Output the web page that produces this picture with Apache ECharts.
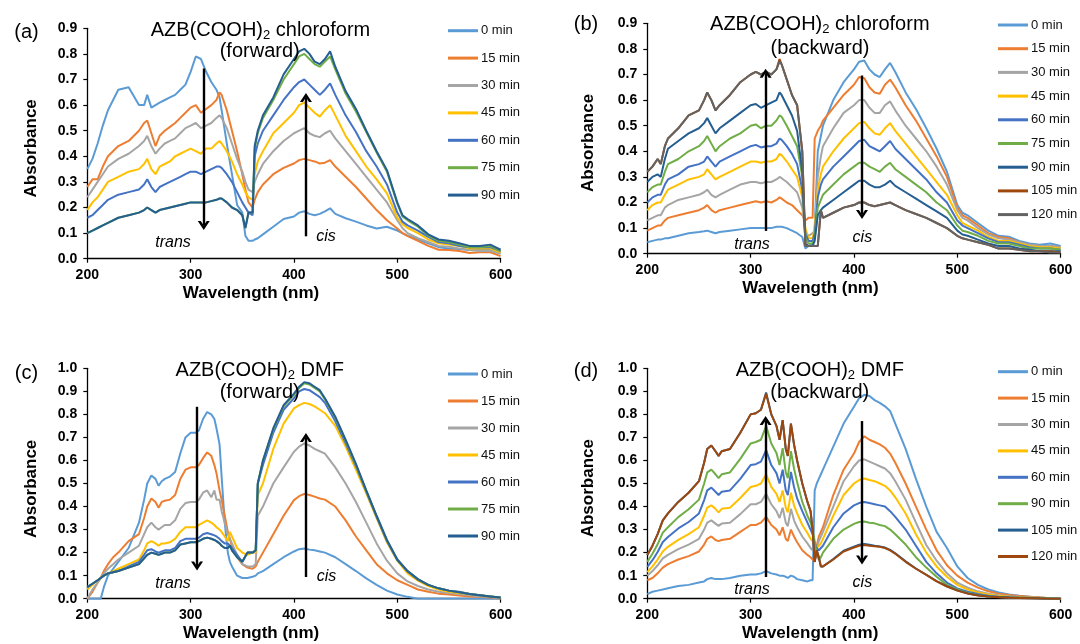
<!DOCTYPE html>
<html><head><meta charset="utf-8">
<script src="https://cdn.jsdelivr.net/npm/echarts@6/dist/echarts.min.js"></script>
<style>html,body{margin:0;padding:0;background:#fff}#c{width:1080px;height:644px}</style>
</head><body><div id="c"></div><script>
// ---------- DATA ----------
const namesA = ['0 min','15 min','30 min','45 min','60 min','75 min','90 min'];
const namesB = ['0 min','15 min','30 min','45 min','60 min','75 min','90 min','105 min','120 min'];
const namesC = ['0 min','15 min','30 min','45 min','60 min','75 min','90 min'];
const namesD = ['0 min','15 min','30 min','45 min','60 min','90 min','105 min','120 min'];
const xTicks = [200,300,400,500,600];

// (a) chloroform forward
const wlA = [200,205,210,215,220, 230,240,250,255,258, 262,266,270,275,280, 285,290,295,300,305, 310,315,320,325,328, 330,335,340,345,350, 353,356,360,362,365, 370,380,390,400,405, 410,415,420,425,430, 435,440,450,460,470, 480,490,500,505,510, 520,530,540,550,560, 570,580,590,600];
const a0  = [0.35,0.39,0.45,0.52,0.58, 0.66,0.67,0.60,0.60,0.64, 0.59,0.60,0.61,0.62,0.63, 0.64,0.66,0.68,0.73,0.79, 0.78,0.73,0.69,0.66,0.63, 0.58,0.45,0.33,0.21,0.18, 0.09,0.07,0.07,0.075,0.08, 0.095,0.125,0.155,0.165,0.18, 0.185,0.175,0.17,0.175,0.185, 0.197,0.175,0.158,0.145,0.13, 0.118,0.125,0.11,0.10,0.09, 0.075,0.06,0.045,0.04,0.038, 0.034,0.034,0.034,0.02];
const a15 = [0.28,0.31,0.31,0.36,0.40, 0.44,0.46,0.50,0.53,0.54, 0.49,0.44,0.48,0.50,0.515, 0.53,0.55,0.57,0.59,0.60, 0.57,0.585,0.60,0.62,0.65, 0.64,0.58,0.50,0.42,0.33, 0.27,0.22,0.20,0.23,0.26, 0.29,0.33,0.355,0.372,0.385, 0.39,0.385,0.38,0.372,0.375, 0.385,0.36,0.32,0.28,0.235, 0.19,0.15,0.118,0.10,0.088, 0.07,0.05,0.035,0.034,0.03, 0.022,0.025,0.025,0.01];
const a30 = [0.24,0.27,0.30,0.33,0.36, 0.39,0.41,0.44,0.46,0.48, 0.44,0.41,0.43,0.45,0.46, 0.47,0.49,0.51,0.52,0.53, 0.51,0.52,0.53,0.55,0.56, 0.55,0.51,0.45,0.39,0.34, 0.30,0.27,0.26,0.30,0.33, 0.37,0.42,0.46,0.49,0.50, 0.51,0.49,0.48,0.475,0.49, 0.50,0.47,0.42,0.37,0.32, 0.27,0.22,0.15,0.12,0.10, 0.08,0.065,0.05,0.047,0.04, 0.034,0.03,0.03,0.02];
const a45 = [0.19,0.22,0.24,0.27,0.30, 0.32,0.34,0.35,0.37,0.39, 0.35,0.33,0.36,0.37,0.38, 0.40,0.41,0.42,0.43,0.42, 0.41,0.43,0.43,0.45,0.46, 0.45,0.42,0.38,0.33,0.29, 0.26,0.24,0.23,0.33,0.38, 0.42,0.49,0.53,0.57,0.60, 0.61,0.59,0.57,0.555,0.58, 0.60,0.56,0.48,0.42,0.36, 0.31,0.255,0.16,0.135,0.12, 0.10,0.075,0.06,0.055,0.05, 0.04,0.04,0.04,0.025];
const a60 = [0.16,0.17,0.19,0.21,0.23, 0.25,0.26,0.27,0.29,0.31, 0.28,0.26,0.28,0.29,0.30, 0.31,0.32,0.33,0.34,0.34, 0.33,0.34,0.35,0.36,0.36, 0.355,0.33,0.30,0.26,0.22, 0.20,0.18,0.17,0.40,0.45, 0.50,0.56,0.62,0.67,0.69, 0.70,0.68,0.66,0.64,0.66, 0.685,0.64,0.56,0.495,0.42, 0.36,0.29,0.18,0.145,0.13, 0.11,0.085,0.065,0.06,0.05, 0.045,0.045,0.045,0.03];
const a75 = [0.10,0.11,0.12,0.13,0.14, 0.16,0.17,0.18,0.19,0.20, 0.19,0.18,0.19,0.195,0.20, 0.205,0.21,0.215,0.22,0.22, 0.22,0.22,0.225,0.23,0.235, 0.235,0.22,0.20,0.19,0.17, 0.12,0.18,0.18,0.43,0.49, 0.55,0.62,0.70,0.76,0.79, 0.80,0.78,0.76,0.75,0.77, 0.79,0.74,0.645,0.575,0.495, 0.415,0.34,0.215,0.165,0.15, 0.125,0.09,0.07,0.065,0.055, 0.045,0.045,0.05,0.03];
const a90 = [0.10,0.11,0.12,0.13,0.14, 0.16,0.17,0.18,0.19,0.20, 0.19,0.18,0.19,0.195,0.20, 0.205,0.21,0.215,0.22,0.22, 0.22,0.22,0.225,0.23,0.235, 0.235,0.22,0.20,0.19,0.17, 0.12,0.18,0.18,0.44,0.50, 0.56,0.63,0.72,0.78,0.81, 0.82,0.80,0.77,0.76,0.78, 0.81,0.75,0.655,0.585,0.50, 0.42,0.346,0.22,0.17,0.155, 0.13,0.095,0.075,0.07,0.06, 0.05,0.05,0.055,0.035];

// (b) chloroform backward
const wlB = [200,205,210,213,217, 220,230,240,250,255, 258,262,266,270,280, 290,300,305,310,315, 320,325,328,330,335, 340,345,350,353,356, 360,362,365,368,370, 380,390,400,405,410, 415,420,425,430,435, 440,450,460,470,480, 490,500,505,510,520, 530,540,550,560,570, 580,590,600];
const b0   = [0.045,0.05,0.055,0.055,0.06, 0.06,0.07,0.08,0.085,0.088, 0.09,0.085,0.08,0.085,0.09, 0.095,0.10,0.10,0.10,0.10, 0.10,0.105,0.105,0.105,0.10, 0.09,0.08,0.065,0.02,0.03, 0.04,0.10,0.40,0.46,0.50, 0.60,0.67,0.72,0.75,0.755, 0.72,0.70,0.69,0.72,0.745, 0.71,0.63,0.565,0.49,0.41, 0.32,0.19,0.16,0.15,0.12, 0.09,0.07,0.066,0.05,0.04, 0.035,0.04,0.03];
const b15  = [0.09,0.10,0.11,0.11,0.13, 0.14,0.15,0.16,0.17,0.18, 0.19,0.17,0.16,0.17,0.18, 0.19,0.20,0.205,0.20,0.205, 0.20,0.21,0.22,0.215,0.20, 0.19,0.17,0.15,0.13,0.14, 0.14,0.45,0.48,0.50,0.52, 0.57,0.62,0.66,0.69,0.685, 0.65,0.63,0.625,0.66,0.68, 0.65,0.58,0.52,0.45,0.38, 0.30,0.18,0.15,0.14,0.11, 0.08,0.065,0.06,0.045,0.035, 0.03,0.03,0.025];
const b30  = [0.13,0.14,0.15,0.15,0.18, 0.19,0.21,0.22,0.23,0.24, 0.25,0.23,0.22,0.23,0.25, 0.27,0.28,0.28,0.275,0.28, 0.28,0.29,0.30,0.295,0.28, 0.26,0.24,0.18,0.08,0.07, 0.08,0.09,0.30,0.38,0.42, 0.49,0.55,0.58,0.60,0.60, 0.57,0.55,0.55,0.58,0.595, 0.56,0.50,0.45,0.40,0.34, 0.27,0.17,0.14,0.13,0.10, 0.075,0.06,0.055,0.045,0.035, 0.03,0.03,0.025];
const b45  = [0.17,0.19,0.20,0.20,0.23, 0.25,0.27,0.29,0.30,0.31, 0.33,0.31,0.29,0.30,0.32, 0.34,0.36,0.36,0.355,0.36, 0.36,0.37,0.39,0.385,0.36, 0.33,0.30,0.22,0.10,0.06, 0.06,0.10,0.25,0.31,0.34, 0.40,0.45,0.49,0.51,0.515, 0.49,0.47,0.465,0.49,0.51, 0.48,0.43,0.38,0.33,0.28, 0.23,0.15,0.12,0.11,0.09, 0.065,0.05,0.05,0.04,0.03, 0.025,0.025,0.02];
const b60  = [0.20,0.22,0.23,0.23,0.27, 0.29,0.31,0.34,0.35,0.36, 0.38,0.36,0.34,0.36,0.38, 0.40,0.42,0.425,0.415,0.42, 0.42,0.43,0.45,0.445,0.42, 0.39,0.35,0.25,0.08,0.05, 0.05,0.08,0.22,0.27,0.29, 0.34,0.38,0.42,0.44,0.445, 0.42,0.41,0.40,0.42,0.44, 0.41,0.37,0.33,0.29,0.24, 0.20,0.13,0.11,0.10,0.08, 0.06,0.045,0.045,0.035,0.025, 0.02,0.02,0.015];
const b75  = [0.24,0.26,0.27,0.27,0.32, 0.35,0.37,0.40,0.42,0.44, 0.46,0.43,0.40,0.42,0.45, 0.47,0.50,0.505,0.49,0.50, 0.50,0.52,0.54,0.535,0.50, 0.46,0.42,0.30,0.06,0.04, 0.04,0.06,0.18,0.21,0.23, 0.27,0.31,0.34,0.355,0.355, 0.34,0.33,0.32,0.34,0.355, 0.33,0.30,0.27,0.24,0.20, 0.17,0.11,0.09,0.085,0.07, 0.05,0.04,0.04,0.03,0.02, 0.02,0.02,0.015];
const b90  = [0.28,0.30,0.31,0.30,0.37, 0.41,0.44,0.47,0.49,0.51, 0.53,0.50,0.47,0.49,0.52, 0.55,0.58,0.585,0.57,0.58, 0.59,0.60,0.63,0.62,0.58, 0.54,0.48,0.32,0.04,0.03, 0.03,0.05,0.15,0.17,0.18, 0.21,0.24,0.27,0.285,0.285, 0.27,0.26,0.26,0.27,0.285, 0.265,0.24,0.215,0.19,0.165, 0.14,0.09,0.075,0.07,0.055, 0.04,0.03,0.03,0.02,0.015, 0.01,0.01,0.01];
const b105 = [0.32,0.34,0.37,0.35,0.42, 0.45,0.49,0.54,0.56,0.60, 0.63,0.60,0.56,0.58,0.62, 0.67,0.70,0.71,0.70,0.71, 0.70,0.72,0.76,0.74,0.68, 0.62,0.58,0.40,0.03,0.03, 0.03,0.03,0.03,0.17,0.14, 0.16,0.18,0.19,0.20,0.20, 0.19,0.185,0.19,0.195,0.20, 0.19,0.17,0.155,0.14,0.12, 0.10,0.07,0.06,0.055,0.045, 0.035,0.02,0.02,0.015,0.01, 0.01,0.01,0.005];
const b120 = [0.32,0.34,0.37,0.35,0.42, 0.45,0.49,0.54,0.56,0.60, 0.63,0.60,0.56,0.58,0.62, 0.67,0.70,0.71,0.70,0.71, 0.70,0.72,0.75,0.74,0.68, 0.62,0.58,0.40,0.03,0.03, 0.03,0.03,0.03,0.17,0.14, 0.16,0.18,0.19,0.20,0.20, 0.19,0.185,0.19,0.195,0.20, 0.19,0.17,0.155,0.14,0.12, 0.10,0.07,0.06,0.055,0.045, 0.035,0.02,0.02,0.015,0.01, 0.01,0.005,0.005];

// (c) DMF forward
const wlC = [200,205,210,213,216, 220,225,230,240,250, 255,258,262,266,269, 272,275,280,285,290, 295,300,305,308,312, 316,320,323,325,328, 330,333,336,338,340, 345,350,355,360,363, 365,370,380,390,400, 405,410,415,420,425, 430,440,450,460,470, 480,490,500,510,520, 530,540,550,560,570, 580,590,600];
const c0  = [0,0,0,0,0.05, 0.10,0.13,0.16,0.22,0.33, 0.43,0.50,0.535,0.52,0.49, 0.51,0.52,0.53,0.55,0.63, 0.70,0.72,0.72,0.73,0.78, 0.81,0.80,0.78,0.74,0.67, 0.53,0.33,0.20,0.16,0.14, 0.10,0.09,0.09,0.095,0.10, 0.11,0.12,0.15,0.18,0.205, 0.215,0.218,0.213,0.21,0.205, 0.20,0.18,0.15,0.12,0.088, 0.06,0.035,0.018,0.008,0, 0,0,0,0,0, 0,0,0];
const c15 = [0,0.03,0.07,0.09,0.12, 0.15,0.18,0.20,0.25,0.28, 0.35,0.40,0.435,0.42,0.395, 0.42,0.425,0.43,0.45,0.52, 0.56,0.57,0.57,0.58,0.61, 0.635,0.62,0.58,0.545,0.47, 0.43,0.36,0.29,0.26,0.226, 0.18,0.15,0.135,0.13,0.14, 0.16,0.20,0.28,0.36,0.428, 0.445,0.455,0.45,0.443,0.435, 0.43,0.40,0.34,0.27,0.21, 0.15,0.11,0.08,0.06,0.04, 0.03,0.022,0.018,0.014,0.01, 0.008,0.005,0];
const c30 = [0,0.04,0.07,0.09,0.11, 0.13,0.15,0.17,0.20,0.23, 0.28,0.31,0.33,0.31,0.30, 0.31,0.32,0.32,0.34,0.39, 0.415,0.42,0.42,0.43,0.46, 0.47,0.44,0.47,0.43,0.43, 0.38,0.33,0.28,0.26,0.24, 0.19,0.15,0.14,0.14,0.15, 0.36,0.40,0.50,0.57,0.638, 0.66,0.674,0.665,0.65,0.64, 0.63,0.57,0.50,0.42,0.33, 0.24,0.165,0.11,0.075,0.055, 0.04,0.03,0.025,0.02,0.015, 0.01,0.008,0];
const c45 = [0.04,0.06,0.08,0.09,0.10, 0.11,0.12,0.13,0.15,0.17, 0.21,0.24,0.25,0.24,0.23, 0.24,0.24,0.245,0.26,0.29, 0.31,0.31,0.31,0.32,0.33, 0.34,0.33,0.32,0.31,0.30, 0.29,0.27,0.25,0.29,0.27, 0.22,0.20,0.19,0.20,0.20, 0.45,0.50,0.65,0.76,0.826, 0.84,0.85,0.845,0.835,0.82, 0.805,0.75,0.66,0.56,0.457, 0.35,0.245,0.165,0.11,0.078, 0.055,0.04,0.03,0.025,0.02, 0.015,0.01,0.005];
const c60 = [0.05,0.065,0.08,0.09,0.10, 0.11,0.115,0.12,0.14,0.16, 0.19,0.21,0.215,0.205,0.20, 0.205,0.21,0.21,0.22,0.25, 0.26,0.26,0.26,0.265,0.28, 0.285,0.28,0.275,0.27,0.26, 0.25,0.24,0.24,0.23,0.22, 0.19,0.16,0.20,0.20,0.21, 0.50,0.58,0.72,0.82,0.87, 0.90,0.91,0.905,0.89,0.875, 0.85,0.77,0.675,0.575,0.465, 0.355,0.25,0.168,0.118,0.082, 0.06,0.045,0.035,0.03,0.02, 0.015,0.01,0.005];
const c75 = [0.05,0.065,0.08,0.09,0.10, 0.11,0.115,0.12,0.135,0.15, 0.175,0.19,0.20,0.195,0.19, 0.195,0.20,0.20,0.21,0.235, 0.24,0.245,0.245,0.25,0.26, 0.265,0.26,0.255,0.25,0.24, 0.23,0.22,0.22,0.23,0.21, 0.18,0.16,0.20,0.20,0.21, 0.50,0.60,0.735,0.835,0.885, 0.915,0.935,0.93,0.915,0.90, 0.865,0.785,0.685,0.58,0.468, 0.358,0.253,0.17,0.12,0.084, 0.06,0.045,0.035,0.028,0.02, 0.015,0.01,0.005];
const c90 = [0.05,0.065,0.08,0.09,0.10, 0.11,0.115,0.12,0.135,0.15, 0.175,0.19,0.20,0.195,0.19, 0.195,0.20,0.20,0.21,0.235, 0.24,0.245,0.245,0.25,0.26, 0.265,0.26,0.255,0.25,0.24, 0.23,0.22,0.22,0.23,0.21, 0.18,0.16,0.20,0.20,0.21, 0.50,0.60,0.74,0.84,0.89, 0.92,0.94,0.935,0.92,0.905, 0.87,0.79,0.69,0.585,0.47, 0.36,0.255,0.17,0.12,0.085, 0.06,0.045,0.035,0.028,0.02, 0.015,0.01,0.005];

// (d) DMF backward
const wlD = [200,205,210,215,220, 230,240,250,255,258, 262,266,269,272,280, 290,300,305,310,315, 320,325,328,331,334, 336,339,342,345,350, 355,358,360,362,364, 366,368,370,380,390, 400,405,410,415,420, 425,430,435,440,450, 460,470,480,490,500, 510,520,530,540,550, 560,570,580,590,600];
const d0   = [0.02,0.03,0.035,0.04,0.045, 0.055,0.06,0.07,0.075,0.085, 0.09,0.085,0.085,0.085,0.09, 0.10,0.105,0.105,0.11,0.12, 0.11,0.105,0.10,0.10,0.095, 0.09,0.10,0.095,0.085,0.08, 0.075,0.08,0.08,0.47,0.50, 0.52,0.54,0.56,0.66,0.76, 0.833,0.87,0.885,0.88,0.862, 0.85,0.835,0.815,0.76,0.65, 0.52,0.40,0.29,0.22,0.14, 0.09,0.06,0.04,0.027,0.018, 0.013,0.009,0.005,0.002,0];
const d15  = [0.08,0.09,0.11,0.135,0.15, 0.17,0.185,0.205,0.235,0.26, 0.27,0.255,0.25,0.255,0.26, 0.29,0.32,0.32,0.33,0.355, 0.32,0.30,0.275,0.31,0.26, 0.25,0.30,0.27,0.245,0.21, 0.19,0.18,0.17,0.16,0.23, 0.27,0.29,0.31,0.45,0.56, 0.63,0.68,0.705,0.69,0.68, 0.67,0.655,0.63,0.59,0.50, 0.40,0.30,0.21,0.145,0.10, 0.07,0.048,0.032,0.022,0.016, 0.012,0.008,0.005,0.002,0];
const d30  = [0.10,0.12,0.145,0.175,0.19, 0.215,0.235,0.26,0.30,0.33, 0.34,0.326,0.316,0.326,0.33, 0.367,0.41,0.41,0.42,0.455, 0.41,0.38,0.35,0.395,0.33, 0.315,0.39,0.34,0.31,0.27, 0.24,0.22,0.21,0.20,0.22, 0.25,0.27,0.29,0.40,0.51, 0.575,0.60,0.605,0.595,0.585, 0.575,0.565,0.545,0.51,0.43, 0.33,0.233,0.165,0.11,0.07, 0.048,0.032,0.022,0.015,0.011, 0.008,0.006,0.004,0.002,0];
const d45  = [0.115,0.14,0.17,0.205,0.225, 0.255,0.28,0.31,0.36,0.395, 0.405,0.39,0.375,0.39,0.395, 0.437,0.485,0.49,0.50,0.54, 0.485,0.455,0.42,0.47,0.395, 0.375,0.46,0.405,0.37,0.32, 0.285,0.26,0.25,0.23,0.22, 0.23,0.24,0.26,0.36,0.45, 0.50,0.515,0.522,0.515,0.51, 0.50,0.49,0.47,0.44,0.37, 0.28,0.20,0.14,0.095,0.06, 0.04,0.027,0.018,0.012,0.009, 0.007,0.005,0.003,0.001,0];
const d60  = [0.138,0.167,0.203,0.246,0.268, 0.305,0.333,0.37,0.428,0.47, 0.482,0.464,0.45,0.464,0.47, 0.52,0.58,0.584,0.595,0.645, 0.58,0.545,0.50,0.56,0.47, 0.45,0.55,0.485,0.435,0.38, 0.33,0.30,0.28,0.24,0.22, 0.21,0.22,0.23,0.31,0.37, 0.405,0.415,0.42,0.415,0.41, 0.405,0.40,0.38,0.355,0.30, 0.23,0.16,0.11,0.07,0.045, 0.03,0.02,0.013,0.009,0.006, 0.005,0.004,0.002,0.001,0];
const d90  = [0.16,0.195,0.236,0.287,0.31, 0.354,0.388,0.43,0.50,0.548, 0.56,0.54,0.523,0.54,0.548, 0.607,0.674,0.68,0.69,0.75, 0.674,0.632,0.58,0.653,0.548, 0.523,0.64,0.565,0.506,0.42, 0.36,0.33,0.30,0.25,0.19, 0.17,0.18,0.20,0.26,0.30, 0.325,0.333,0.335,0.33,0.327, 0.32,0.315,0.30,0.28,0.235, 0.18,0.135,0.095,0.06,0.04, 0.025,0.016,0.01,0.007,0.005, 0.004,0.003,0.002,0.001,0];
const d105 = [0.19,0.23,0.28,0.34,0.37, 0.42,0.46,0.51,0.59,0.65, 0.665,0.64,0.62,0.64,0.65, 0.72,0.80,0.805,0.82,0.895, 0.80,0.75,0.69,0.775,0.65, 0.62,0.76,0.67,0.60,0.50, 0.42,0.38,0.30,0.16,0.21, 0.18,0.14,0.14,0.172,0.208, 0.226,0.234,0.238,0.234,0.23, 0.227,0.222,0.212,0.197,0.162, 0.131,0.104,0.076,0.054,0.036, 0.023,0.015,0.01,0.007,0.005, 0.003,0.002,0.001,0,0];
const d120 = [0.19,0.23,0.28,0.34,0.37, 0.42,0.46,0.51,0.59,0.65, 0.665,0.64,0.62,0.64,0.65, 0.72,0.80,0.805,0.82,0.89, 0.80,0.75,0.69,0.775,0.65, 0.62,0.76,0.67,0.60,0.50, 0.42,0.38,0.30,0.16,0.21, 0.18,0.14,0.14,0.17,0.205, 0.222,0.23,0.233,0.23,0.228, 0.225,0.22,0.21,0.195,0.16, 0.13,0.103,0.075,0.053,0.035, 0.022,0.014,0.009,0.006,0.004, 0.003,0.002,0.001,0,0];

// arrows: [wavelength, from, to]
const arrowsA = [[312.7,0.743,0.13],[411.6,0.0875,0.63]];
const arrowsB = [[314.5,0.089,0.705],[407.8,0.696,0.153]];
const arrowsC = [[306.2,0.833,0.142],[411.6,0.094,0.70]];
const arrowsD = [[314.5,0.094,0.773],[407.8,0.771,0.168]];

// ---------- STYLE / LAYOUT ----------
const F = '"Liberation Sans", Arial, Helvetica, sans-serif';
const C0='#5B9BD5', C15='#ED7D31', C30='#A5A5A5', C45='#FFC000', C60='#4472C4', C75='#70AD47', CDB='#255E91', CBR='#9E480E', CDG='#636363';

const PANELS = [
  {key:'a', wl:wlA, names:namesA, data:[a0,a15,a30,a45,a60,a75,a90], colors:[C0,C15,C30,C45,C60,C75,CDB],
   grid:{left:87.3, top:28.3, width:413.3, height:230.4}, ymax:0.9, legend:{left:443, top:18.7, gap:13.4}, arrows:arrowsA},
  {key:'b', wl:wlB, names:namesB, data:[b0,b15,b30,b45,b60,b75,b90,b105,b120], colors:[C0,C15,C30,C45,C60,C75,CDB,CBR,CDG],
   grid:{left:647.3, top:23.3, width:413.3, height:230.4}, ymax:0.9, legend:{left:993, top:13, gap:9.7}, arrows:arrowsB},
  {key:'c', wl:wlC, names:namesC, data:[c0,c15,c30,c45,c60,c75,c90], colors:[C0,C15,C30,C45,C60,C75,CDB],
   grid:{left:87.3, top:368.3, width:413.3, height:230.4}, ymax:1.0, legend:{left:443, top:362, gap:13}, arrows:arrowsC},
  {key:'d', wl:wlD, names:namesD, data:[d0,d15,d30,d45,d60,d90,d105,d120], colors:[C0,C15,C30,C45,C60,C75,CDB,CBR],
   grid:{left:647.3, top:368.3, width:413.3, height:230.4}, ymax:1.0, legend:{left:993, top:359.7, gap:12.4}, arrows:arrowsD}
];

const CHEVRON = 'path://M0,10 L6,0 L12,10 L9,10 L6,4.8 L3,10 Z';

const option = {animation:false, backgroundColor:'#fff', grid:[], xAxis:[], yAxis:[], series:[], legend:[], graphic:{elements:[]}};

PANELS.forEach((p, pi) => {
  option.grid.push(Object.assign({containLabel:false}, p.grid));
  option.xAxis.push({
    type:'value', gridIndex:pi, min:xTicks[0], max:xTicks[xTicks.length-1], interval:xTicks[1]-xTicks[0],
    axisLine:{show:true, onZero:false, lineStyle:{color:'#000', width:1.3}},
    axisTick:{show:true, length:4, lineStyle:{color:'#000', width:1.2}},
    axisLabel:{fontFamily:F, fontWeight:'bold', fontSize:14, color:'#000', margin:9},
    splitLine:{show:false}
  });
  option.yAxis.push({
    type:'value', gridIndex:pi, min:0, max:p.ymax, interval:0.1,
    axisLine:{show:true, lineStyle:{color:'#000', width:1.3}},
    axisTick:{show:true, length:4, lineStyle:{color:'#000', width:1.2}},
    axisLabel:{fontFamily:F, fontWeight:'bold', fontSize:14, color:'#000', margin:10, formatter:v=>v.toFixed(1)},
    splitLine:{show:false}
  });
  const legendNames = [];
  p.data.forEach((arr, si) => {
    if (arr.length !== p.wl.length) throw new Error('length mismatch ' + p.key + si + ': ' + arr.length + ' vs ' + p.wl.length);
    const nm = p.key + ':' + p.names[si];
    legendNames.push(nm);
    const s = {
      type:'line', name:nm, xAxisIndex:pi, yAxisIndex:pi,
      data:p.wl.map((x,i)=>[x, arr[i]]),
      showSymbol:false, symbol:'none', silent:true,
      lineStyle:{width:2, color:p.colors[si]}, itemStyle:{color:p.colors[si]},
      emphasis:{disabled:true}
    };
    if (si === 0) {
      s.markLine = {
        silent:true, animation:false, symbol:['none', CHEVRON], symbolSize:[12,9],
        label:{show:false}, emphasis:{disabled:true},
        lineStyle:{color:'#000', width:2.4, type:'solid'},
        data:p.arrows.map(a => [{coord:[a[0], a[1]]}, {coord:[a[0], a[2]]}])
      };
    }
    option.series.push(s);
  });
  option.legend.push({
    orient:'vertical', left:p.legend.left, top:p.legend.top, itemGap:p.legend.gap,
    itemWidth:30, itemHeight:3, icon:'rect', selectedMode:false,
    data:legendNames, formatter:n=>n.split(':')[1],
    textStyle:{fontFamily:F, fontSize:13, color:'#111', lineHeight:14, padding:[0,0,0,-2]}
  });
});

function txt(x, y, text, size, opts) {
  opts = opts || {};
  return {type:'text', x:x, y:y, rotation:opts.rot||0, silent:true, z:10,
    style:{text:text, fontSize:size, fontFamily:F, fontWeight:opts.bold?'bold':'normal', fontStyle:opts.italic?'italic':'normal',
      fill:'#000', align:'center', verticalAlign:'middle', textAlign:'center', textVerticalAlign:'middle'}};
}
function title(x, y, main, rest) {
  return {type:'text', x:x, y:y, silent:true, z:10,
    style:{text:'{m|' + main + '}{s|2}{m|' + rest + '}', fill:'#000',
      align:'center', verticalAlign:'middle', textAlign:'center', textVerticalAlign:'middle',
      rich:{m:{fontSize:20, fontFamily:F, fill:'#000', color:'#000', lineHeight:24},
            s:{fontSize:13, fontFamily:F, fill:'#000', color:'#000', lineHeight:12, verticalAlign:'bottom'}}}};
}
const G = option.graphic.elements;
// panel letters
G.push(txt(26.5, 32.3, '(a)', 20), txt(586, 24, '(b)', 20), txt(26.5, 373.3, '(c)', 20), txt(586, 371.6, '(d)', 20));
// titles
G.push(title(260.5, 30, 'AZB(COOH)', ' chloroform'), txt(259.7, 51.7, '(forward)', 20));
G.push(title(819.8, 24, 'AZB(COOH)', ' chloroform'), txt(820, 48.3, '(backward)', 20));
G.push(title(259.7, 370, 'AZB(COOH)', ' DMF'), txt(259.7, 392.7, '(forward)', 20));
G.push(title(819.8, 370, 'AZB(COOH)', ' DMF'), txt(819.8, 392.7, '(backward)', 20));
// trans / cis
G.push(txt(173, 243, 'trans', 16, {italic:true}), txt(326, 236.3, 'cis', 16, {italic:true}));
G.push(txt(752, 244.7, 'trans', 16, {italic:true}), txt(862.4, 237.1, 'cis', 16, {italic:true}));
G.push(txt(173, 583.7, 'trans', 16, {italic:true}), txt(326.5, 576.3, 'cis', 16, {italic:true}));
G.push(txt(752, 589.7, 'trans', 16, {italic:true}), txt(862.4, 583, 'cis', 16, {italic:true}));
// axis titles
G.push(txt(31.8, 148.3, 'Absorbance', 17, {bold:true, rot:Math.PI/2}), txt(588.3, 143, 'Absorbance', 17, {bold:true, rot:Math.PI/2}));
G.push(txt(31.8, 488.8, 'Absorbance', 17, {bold:true, rot:Math.PI/2}), txt(588.3, 488.2, 'Absorbance', 17, {bold:true, rot:Math.PI/2}));
G.push(txt(251, 293.7, 'Wavelength (nm)', 17, {bold:true}), txt(810.4, 288.7, 'Wavelength (nm)', 17, {bold:true}));
G.push(txt(251.1, 633.7, 'Wavelength (nm)', 17, {bold:true}), txt(810.2, 633.7, 'Wavelength (nm)', 17, {bold:true}));

const chart = echarts.init(document.getElementById('c'), null, {renderer:'canvas', width:1080, height:644});
chart.setOption(option);
</script></body></html>
